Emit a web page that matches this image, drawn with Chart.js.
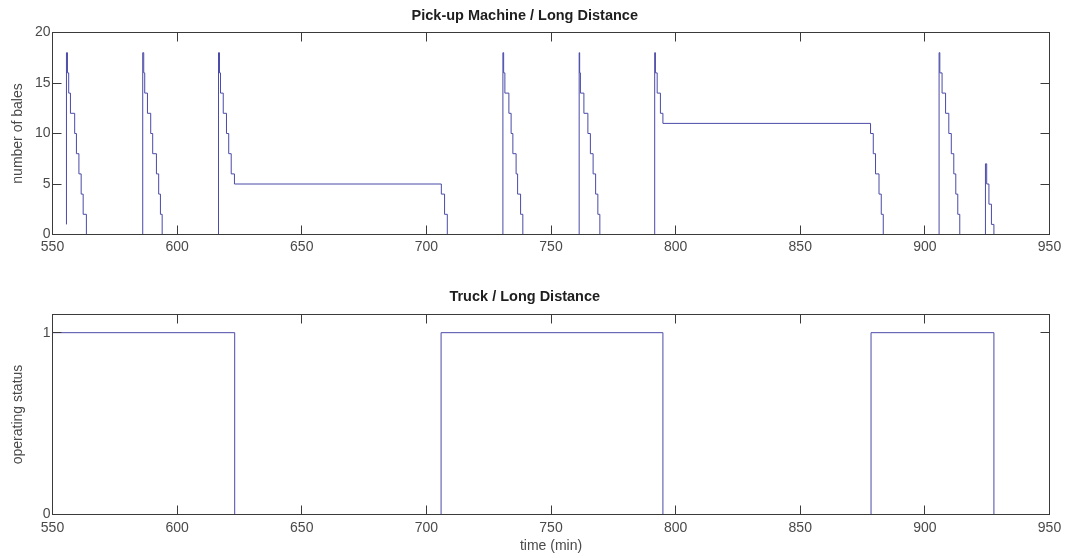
<!DOCTYPE html>
<html>
<head>
<meta charset="utf-8">
<script src="https://cdn.jsdelivr.net/npm/chart.js@4.4.0/dist/chart.umd.min.js"></script>
<style>
  body { margin: 0; background: #fff; }
  canvas { display: block; }
</style>
</head>
<body>
<canvas id="balesChart" width="1068" height="270"></canvas>
<canvas id="truckChart" width="1068" height="288"></canvas>
<script>
// axis ticks
const timeTicks = [550, 600, 650, 700, 750, 800, 850, 900, 950];
const baleTicks = [0, 5, 10, 15, 20];
const statusTicks = [0, 1];

// pick-up machine: bales on board (value holds until the next time)
const baleTimes = [
  555.6, 555.6, 556.0, 556.5, 557.2, 558.9, 559.6, 560.6, 561.5, 562.3, 563.6,
  586.2, 586.6, 587.0, 588.1, 589.4, 590.2, 591.7, 592.6, 593.3, 594.0,
  616.6, 617.0, 617.4, 618.5, 619.8, 620.7, 621.7, 623.0, 706.0, 707.3, 708.4,
  730.7, 731.0, 731.5, 733.1, 734.0, 734.7, 736.0, 736.6, 737.8, 738.7,
  761.3, 761.5, 761.8, 763.2, 764.8, 765.8, 766.9, 767.9, 768.8, 769.6,
  791.6, 791.9, 792.6, 793.9, 794.9, 878.2, 879.3, 880.2, 881.6, 882.5, 883.3,
  905.7, 906.0, 906.9, 908.3, 909.6, 910.6, 911.6, 912.4, 913.2, 914.0,
  924.3, 924.8, 925.7, 926.7, 927.7
];
const baleCounts = [
  1, 18, 16, 14, 12, 10, 8, 6, 4, 2, 0,
  18, 16, 14, 12, 10, 8, 6, 4, 2, 0,
  18, 16, 14, 12, 10, 8, 6, 5, 4, 2, 0,
  18, 16, 14, 12, 10, 8, 6, 4, 2, 0,
  18, 16, 14, 12, 10, 8, 6, 4, 2, 0,
  18, 16, 14, 12, 11, 10, 8, 6, 4, 2, 0,
  18, 16, 14, 12, 10, 8, 6, 4, 2, 0,
  7, 5, 3, 1, 0
];

// truck operating status
const truckTimes = [550, 623.1, 705.9, 794.9, 878.4, 927.7, 950];
const truckStatus = [1, 0, 1, 0, 1, 0, 0];

const lineColor = '#4a4aa8';
const axisColor = '#3a3a3a';
const labelColor = '#4a4a4a';

Chart.defaults.font.family = '"Liberation Sans", Arial, sans-serif';
Chart.defaults.font.size = 14;
Chart.defaults.color = labelColor;

// MATLAB style box with inward ticks, drawn over the data
const boxAxes = {
  id: 'boxAxes',
  afterDatasetsDraw(chart) {
    const { ctx, chartArea: a, scales } = chart;
    const snap = (v) => Math.round(v - 0.5) + 0.5;
    ctx.save();
    ctx.strokeStyle = axisColor;
    ctx.lineWidth = 1;
    ctx.strokeRect(a.left, a.top, a.right - a.left, a.bottom - a.top);
    ctx.beginPath();
    scales.x.ticks.forEach((t) => {
      const px = snap(scales.x.getPixelForValue(t.value));
      ctx.moveTo(px, a.bottom); ctx.lineTo(px, a.bottom - 9);
      ctx.moveTo(px, a.top); ctx.lineTo(px, a.top + 9);
    });
    scales.y.ticks.forEach((t) => {
      const py = snap(scales.y.getPixelForValue(t.value));
      ctx.moveTo(a.left, py); ctx.lineTo(a.left + 9, py);
      ctx.moveTo(a.right, py); ctx.lineTo(a.right - 9, py);
    });
    ctx.stroke();
    ctx.restore();
  }
};

function makeChart(id, cfg) {
  const ctx = document.getElementById(id).getContext('2d');
  return new Chart(ctx, {
    type: 'line',
    data: {
      datasets: [{
        data: cfg.times.map((t, i) => ({ x: t, y: cfg.values[i] })),
        borderColor: lineColor,
        borderWidth: 1,
        pointRadius: 0,
        stepped: true,
        fill: false,
      }],
    },
    options: {
      responsive: false,
      animation: false,
      devicePixelRatio: 1,
      layout: { padding: { left: 0, right: 18.5, top: 0, bottom: 0 } },
      plugins: {
        legend: { display: false },
        tooltip: { enabled: false },
        title: {
          display: true,
          text: cfg.title,
          color: '#1e1e1e',
          font: { size: 14.5, weight: 'bold' },
          padding: cfg.titlePadding,
        },
      },
      scales: {
        x: {
          type: 'linear',
          min: 550,
          max: 950,
          grid: { display: false, drawTicks: false },
          border: { display: false },
          ticks: { padding: cfg.xTickPad, maxRotation: 0 },
          afterBuildTicks: (s) => { s.ticks = timeTicks.map((v) => ({ value: v })); },
          afterFit: (s) => { s.height = cfg.xHeight; s.paddingLeft = 0; s.paddingRight = 0; },
          title: cfg.xTitle
            ? { display: true, text: cfg.xTitle, padding: { top: 0, bottom: 3.6 } }
            : { display: false },
        },
        y: {
          min: 0,
          max: cfg.yMax,
          grid: { display: false, drawTicks: false },
          border: { display: false },
          ticks: { padding: 2 },
          afterBuildTicks: (s) => { s.ticks = cfg.yTicks.map((v) => ({ value: v })); },
          afterFit: (s) => { s.width = 52.5; s.paddingTop = 0; s.paddingBottom = 0; },
          title: { display: true, text: cfg.yTitle, padding: { top: 10, bottom: 0 } },
        },
      },
    },
    plugins: [boxAxes],
  });
}

makeChart('balesChart', {
  times: baleTimes,
  values: baleCounts,
  title: 'Pick-up Machine / Long Distance',
  titlePadding: { top: 7.5, bottom: 7.6 },
  yTitle: 'number of bales',
  yTicks: baleTicks,
  yMax: 20,
  xHeight: 35.5,
  xTickPad: 4,
});

makeChart('truckChart', {
  times: truckTimes,
  values: truckStatus,
  title: 'Truck / Long Distance',
  titlePadding: { top: 18.3, bottom: 8.8 },
  yTitle: 'operating status',
  yTicks: statusTicks,
  yMax: 1.1,
  xHeight: 43.5,
  xTickPad: 5,
  xTitle: 'time (min)',
});
</script>
</body>
</html>
